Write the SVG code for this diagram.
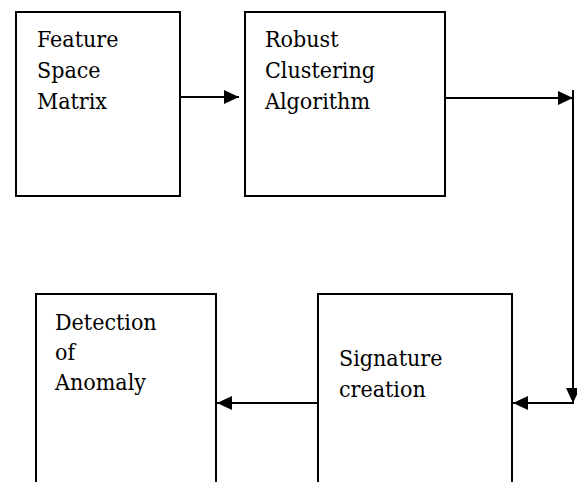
<svg xmlns="http://www.w3.org/2000/svg" width="577" height="482" viewBox="0 0 577 482">
  <style>
    .box { fill: #fff; stroke: #000; stroke-width: 2; }
    .lbl { font-family: 'DejaVu Serif Condensed', 'DejaVu Serif', serif; font-size: 23px; fill: #000; }
    .wire { fill: none; stroke: #000; stroke-width: 2; }
  </style>
  <defs>
    <marker id="head" viewBox="0 0 15 14" refX="15" refY="7" markerWidth="15" markerHeight="14" markerUnits="userSpaceOnUse" orient="auto">
      <path d="M0,0 L15,7 L0,14 Z" fill="#000"/>
    </marker>
  </defs>
  <rect width="577" height="482" fill="#fff"/>

  <g id="feature-space-matrix">
    <rect class="box" x="16" y="12" width="164" height="184"/>
    <text class="lbl" x="37" y="47">Feature</text>
    <text class="lbl" x="37" y="78">Space</text>
    <text class="lbl" x="37" y="109">Matrix</text>
  </g>

  <g id="robust-clustering">
    <rect class="box" x="245" y="12" width="200" height="184"/>
    <text class="lbl" x="265" y="47">Robust</text>
    <text class="lbl" x="265" y="78">Clustering</text>
    <text class="lbl" x="265" y="109">Algorithm</text>
  </g>

  <g id="signature-creation">
    <rect class="box" x="318" y="294" width="194" height="200"/>
    <text class="lbl" x="339" y="366">Signature</text>
    <text class="lbl" x="339" y="397">creation</text>
  </g>

  <g id="detection-of-anomaly">
    <rect class="box" x="36" y="294" width="180" height="200"/>
    <text class="lbl" x="55" y="330">Detection</text>
    <text class="lbl" x="55" y="360">of</text>
    <text class="lbl" x="55" y="390">Anomaly</text>
  </g>

  <g id="connectors">
    <line class="wire" x1="180" y1="97" x2="239" y2="97" marker-end="url(#head)"/>
    <line class="wire" x1="445" y1="98" x2="573" y2="98" marker-end="url(#head)"/>
    <line class="wire" x1="573" y1="90" x2="573" y2="403" marker-end="url(#head)"/>
    <line class="wire" x1="574" y1="403" x2="513" y2="403" marker-end="url(#head)"/>
    <line class="wire" x1="318" y1="403" x2="217" y2="403" marker-end="url(#head)"/>
  </g>
</svg>
